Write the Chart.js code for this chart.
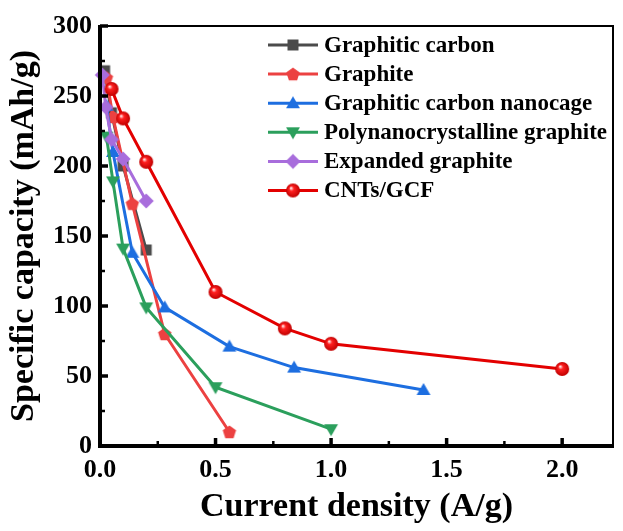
<!DOCTYPE html>
<html>
<head>
<meta charset="utf-8">
<script src="https://cdn.jsdelivr.net/npm/chart.js@4.4.1/dist/chart.umd.min.js"></script>
<style>
	html, body { margin: 0; padding: 0; background: #fff; }
	#wrap { width: 623px; height: 531px; }
</style>
</head>
<body>
<div id="wrap"><canvas id="rateChart" width="623" height="531"></canvas></div>
<script>
	const seriesNames = ['Graphitic carbon', 'Graphite', 'Graphitic carbon nanocage', 'Polynanocrystalline graphite', 'Expanded graphite', 'CNTs/GCF'];

	const graphiticCarbonX = [0.02, 0.05, 0.1, 0.2];
	const graphiticCarbonY = [268, 238, 200, 140];
	const graphiteX = [0.028, 0.056, 0.14, 0.28, 0.56];
	const graphiteY = [263, 235, 173, 80, 10];
	const nanocageX = [0.028, 0.056, 0.14, 0.28, 0.56, 0.84, 1.4];
	const nanocageY = [243, 210, 138, 99, 71, 56, 40];
	const polyX = [0.028, 0.056, 0.1, 0.2, 0.5, 1.0];
	const polyY = [221, 189, 141, 99, 42, 12];
	const expandedX = [0.01, 0.025, 0.05, 0.1, 0.2];
	const expandedY = [265, 242, 219, 205, 175];
	const cntsX = [0.05, 0.1, 0.2, 0.5, 0.8, 1.0, 2.0];
	const cntsY = [255, 234, 203, 110, 84, 73, 55];

	const xTicks = [0, 0.5, 1.0, 1.5, 2.0];
	const yTicks = [0, 50, 100, 150, 200, 250, 300];

	const serif = "'Liberation Serif', 'Times New Roman', serif";

	function makeMarker(shape, color) {
		const size = 18;
		const c = document.createElement('canvas');
		c.width = size;
		c.height = size;
		const g = c.getContext('2d');
		const m = size / 2;
		g.fillStyle = color;
		g.beginPath();
		if (shape === 'square') {
			g.rect(m - 5.5, m - 5.5, 11, 11);
		} else if (shape === 'diamond') {
			g.moveTo(m, m - 7.5);
			g.lineTo(m + 7.5, m);
			g.lineTo(m, m + 7.5);
			g.lineTo(m - 7.5, m);
		} else if (shape === 'up' || shape === 'down') {
			const s = shape === 'up' ? 1 : -1;
			const r = 8;
			for (let k = 0; k < 3; k++) {
				const a = -Math.PI / 2 + k * 2 * Math.PI / 3;
				g.lineTo(m + r * Math.cos(a), m + s * (r * Math.sin(a)) + s * 1);
			}
		} else if (shape === 'pentagon') {
			const r = 7;
			for (let k = 0; k < 5; k++) {
				const a = -Math.PI / 2 + k * 2 * Math.PI / 5;
				g.lineTo(m + r * Math.cos(a), m + 0.5 + r * Math.sin(a));
			}
		} else if (shape === 'sphere') {
			const grad = g.createRadialGradient(m - 2, m - 2.5, 0.5, m, m, 7);
			grad.addColorStop(0, '#ffe0e0');
			grad.addColorStop(0.3, '#ff2020');
			grad.addColorStop(1, '#c00000');
			g.fillStyle = grad;
			g.arc(m, m, 7, 0, Math.PI * 2);
		}
		g.closePath();
		g.fill();
		return c;
	}

	const seriesX = [graphiticCarbonX, graphiteX, nanocageX, polyX, expandedX, cntsX];
	const seriesY = [graphiticCarbonY, graphiteY, nanocageY, polyY, expandedY, cntsY];
	const colors = ['#4b4b4b', '#ec4141', '#1d6ee0', '#2b9f5c', '#a86ddc', '#e30000'];
	const shapes = ['square', 'pentagon', 'up', 'down', 'diamond', 'sphere'];
	const markers = shapes.map((s, i) => makeMarker(s, colors[i]));

	const datasets = seriesNames.map((name, i) => ({
		label: name,
		data: seriesX[i].map((x, j) => ({ x: x, y: seriesY[i][j] })),
		borderColor: colors[i],
		backgroundColor: colors[i],
		borderWidth: 3,
		pointStyle: markers[i],
		pointRadius: 7,
		clip: false,
		order: seriesNames.length - i
	}));

	const frameTicks = {
		id: 'frameTicks',
		afterDatasetsDraw(chart) {
			const { ctx, chartArea: a, scales: { x, y } } = chart;
			ctx.save();
			ctx.strokeStyle = '#000';
			ctx.lineCap = 'butt';

			// minor ticks
			ctx.lineWidth = 2.5;
			for (let v = 0.25; v < x.max; v += 0.5) {
				const px = x.getPixelForValue(v);
				ctx.beginPath();
				ctx.moveTo(px, a.bottom);
				ctx.lineTo(px, a.bottom - 5);
				ctx.stroke();
			}
			for (let v = 25; v < y.max; v += 50) {
				const py = y.getPixelForValue(v);
				ctx.beginPath();
				ctx.moveTo(a.left, py);
				ctx.lineTo(a.left + 5, py);
				ctx.stroke();
			}

			// major ticks
			ctx.lineWidth = 3.5;
			xTicks.forEach((v) => {
				const px = x.getPixelForValue(v);
				ctx.beginPath();
				ctx.moveTo(px, a.bottom);
				ctx.lineTo(px, a.bottom - 8);
				ctx.stroke();
			});
			yTicks.forEach((v) => {
				const py = y.getPixelForValue(v);
				ctx.beginPath();
				ctx.moveTo(a.left, py);
				ctx.lineTo(a.left + 8, py);
				ctx.stroke();
			});

			// frame
			ctx.lineWidth = 2;
			ctx.beginPath();
			ctx.moveTo(a.left, a.top);
			ctx.lineTo(a.right, a.top);
			ctx.lineTo(a.right, a.bottom);
			ctx.stroke();
			ctx.lineWidth = 4;
			ctx.beginPath();
			ctx.moveTo(a.left, a.top - 1);
			ctx.lineTo(a.left, a.bottom);
			ctx.lineTo(a.right + 1, a.bottom);
			ctx.stroke();
			ctx.restore();
		}
	};

	const insideLegend = {
		id: 'insideLegend',
		afterDraw(chart) {
			const ctx = chart.ctx;
			ctx.save();
			ctx.font = 'bold 23px ' + serif;
			ctx.textBaseline = 'middle';
			ctx.textAlign = 'left';
			chart.data.datasets.forEach((ds, i) => {
				const rowY = 45 + i * 29.1;
				ctx.strokeStyle = ds.borderColor;
				ctx.lineWidth = 3;
				ctx.beginPath();
				ctx.moveTo(268, rowY);
				ctx.lineTo(318, rowY);
				ctx.stroke();
				const img = ds.pointStyle;
				ctx.drawImage(img, 293 - img.width / 2, rowY - img.height / 2);
				ctx.fillStyle = '#000';
				ctx.fillText(ds.label, 324, rowY + 1);
			});
			ctx.restore();
		}
	};

	new Chart(document.getElementById('rateChart'), {
		type: 'line',
		data: { datasets: datasets },
		options: {
			responsive: false,
			animation: false,
			layout: { padding: { top: 26, right: 3, left: 0, bottom: 0 } },
			plugins: {
				legend: { display: false },
				tooltip: { enabled: false }
			},
			scales: {
				x: {
					type: 'linear',
					min: 0,
					max: 2.22,
					grid: { display: false, drawTicks: false },
					border: { display: false },
					afterBuildTicks: (s) => { s.ticks = xTicks.map((v) => ({ value: v })); },
					ticks: {
						color: '#000',
						padding: 9,
						font: { family: serif, size: 26, weight: 'bold' },
						callback: (v) => Number(v).toFixed(1)
					},
					title: {
						display: true,
						text: 'Current density (A/g)',
						color: '#000',
						padding: 3,
						font: { family: serif, size: 34, weight: 'bold' }
					},
					afterFit: (s) => { s.height = 85; }
				},
				y: {
					type: 'linear',
					min: 0,
					max: 300,
					grid: { display: false, drawTicks: false },
					border: { display: false },
					afterBuildTicks: (s) => { s.ticks = yTicks.map((v) => ({ value: v })); },
					ticks: {
						color: '#000',
						padding: 8,
						font: { family: serif, size: 26, weight: 'bold' }
					},
					title: {
						display: true,
						text: 'Specific capacity (mAh/g)',
						color: '#000',
						padding: 4,
						font: { family: serif, size: 34, weight: 'bold' }
					},
					afterFit: (s) => { s.width = 100; }
				}
			}
		},
		plugins: [frameTicks, insideLegend]
	});
</script>
</body>
</html>
